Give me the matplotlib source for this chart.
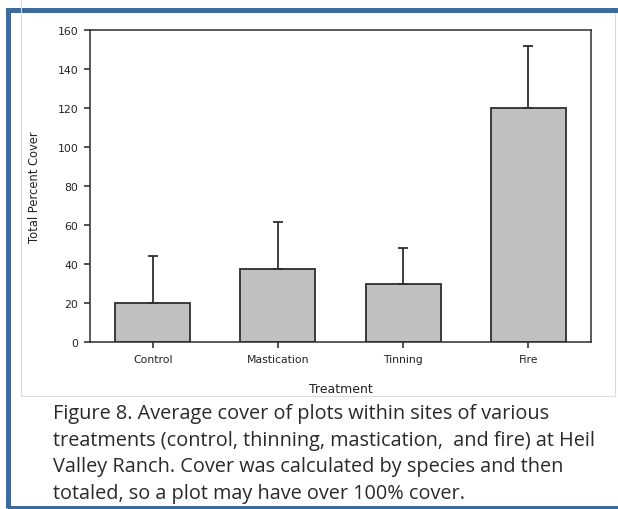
import matplotlib.pyplot as plt
from matplotlib.patches import Rectangle
from matplotlib.lines import Line2D

treatments = ['Control', 'Mastication', 'Tinning', 'Fire']
cover = [20, 37.5, 30, 120]
cover_err = [24, 24, 18, 32]
y_ticks = [0, 20, 40, 60, 80, 100, 120, 140, 160]

caption = ("Figure 8. Average cover of plots within sites of various\n"
           "treatments (control, thinning, mastication,  and fire) at Heil\n"
           "Valley Ranch. Cover was calculated by species and then\n"
           "totaled, so a plot may have over 100% cover.")

plt.rcParams['font.family'] = ['DejaVu Sans']

W, H = 618, 510
fig = plt.figure(figsize=(W / 100, H / 100), dpi=100)
fig.patch.set_facecolor('white')

# faint outline of the pasted chart, then the blue frame (runs off right/bottom)
grey = '#dcdcdc'
fig.add_artist(Line2D([21 / W, 21 / W], [1, 1 - 397 / H], color=grey, lw=0.8))
fig.add_artist(Line2D([615 / W, 615 / W], [1 - 14 / H, 1 - 397 / H], color=grey, lw=0.8))
fig.add_artist(Line2D([21 / W, 615 / W], [1 - 397 / H, 1 - 397 / H], color=grey, lw=0.8))
fig.add_artist(Rectangle((7.5 / W, 1 - 508.5 / H), 640 / W, 498 / H,
                         transform=fig.transFigure, fill=False,
                         edgecolor='#3f6a9e', lw=3.6))

ax = fig.add_axes([90 / W, 1 - 343 / H, 501 / W, 312 / H])
x = range(len(treatments))
ax.bar(x, cover, width=0.6, color='#c0c0c0', edgecolor='#2e2e2e', linewidth=1.3,
       yerr=[[0] * len(cover), cover_err],
       error_kw=dict(ecolor='#2e2e2e', elinewidth=1.3, capsize=3.8, capthick=1.3),
       zorder=2)

ax.set_xlim(-0.5, 3.5)
ax.set_ylim(0, 160)
ax.set_yticks(y_ticks)
ax.set_xticks(list(x))
ax.set_xticklabels(treatments)
ax.tick_params(axis='both', direction='out', length=4.5, width=1.1,
               labelsize=7.8, colors='#222222', pad=4)
for s in ax.spines.values():
    s.set_linewidth(1.1)
    s.set_color('#2e2e2e')

ax.set_xlabel('Treatment', fontsize=9, color='#222222', labelpad=13)
ax.set_ylabel('Total Percent Cover', fontsize=8.3, color='#222222', labelpad=12)

fig.text(53 / W, 1 - 404 / H, caption, fontsize=14.3, family=['Open Sans', 'DejaVu Sans'],
         color='#2a2a2a', va='top', ha='left', linespacing=1.45)

fig.savefig('out.png', dpi=100)
